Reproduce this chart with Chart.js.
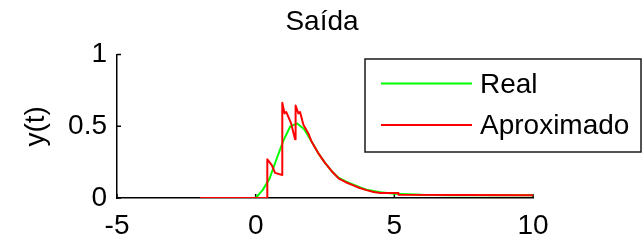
<!DOCTYPE html>
<html>
<head>
<meta charset="utf-8">
<script src="https://cdn.jsdelivr.net/npm/chart.js@4.4.1/dist/chart.umd.min.js"></script>
<style>
html, body { margin: 0; padding: 0; background: #ffffff; }
canvas { display: block; }
</style>
</head>
<body>
<canvas id="c" width="644" height="240"></canvas>
<script>
// ---- chart data ----
const chartTitle = 'Saída';
const yAxisTitle = 'y(t)';
const seriesLabels = ['Real', 'Aproximado'];

const realT = [0, 0.25, 0.5, 0.75, 1.0, 1.25, 1.5, 1.75, 2.0, 2.25, 2.5, 2.75, 3.0, 3.25, 3.5, 3.75, 4.0, 4.5, 5.0, 6.0, 7.0, 8.0, 9.0, 10.0];
const realY = [0, 0.055, 0.135, 0.27, 0.40, 0.50, 0.52, 0.48, 0.40, 0.315, 0.245, 0.185, 0.14, 0.115, 0.095, 0.075, 0.058, 0.04, 0.03, 0.022, 0.02, 0.02, 0.02, 0.02];

const aproxT = [-2, 0.42, 0.42, 0.58, 0.7, 0.96, 0.96, 1.04, 1.1, 1.28, 1.42, 1.44, 1.54, 1.6, 1.72, 1.9, 2.0, 2.25, 2.5, 2.75, 3.0, 3.25, 3.5, 3.75, 4.0, 4.25, 4.5, 5.15, 5.15, 10];
const aproxY = [0, 0, 0.27, 0.23, 0.175, 0.16, 0.665, 0.59, 0.6, 0.52, 0.41, 0.645, 0.59, 0.6, 0.51, 0.45, 0.40, 0.315, 0.245, 0.185, 0.135, 0.11, 0.09, 0.07, 0.055, 0.042, 0.035, 0.035, 0.022, 0.02];

const xTicks = [-5, 0, 5, 10];
const xTickLabels = ['-5', '0', '5', '10'];
const yTicks = [0, 0.5, 1];
const yTickLabels = ['0', '0.5', '1'];

// ---- build ----
const toPoints = (xs, ys) => xs.map((x, i) => ({ x: x, y: ys[i] }));
const FONT = "'Liberation Sans', Arial, Helvetica, sans-serif";

Chart.defaults.font.family = FONT;
Chart.defaults.color = '#000000';

const inwardTicks = {
  id: 'inwardTicks',
  beforeDatasetsDraw(chart) {
    const { ctx, chartArea, scales } = chart;
    ctx.save();
    ctx.strokeStyle = '#000000';
    ctx.lineWidth = 1.5;
    ctx.beginPath();
    scales.x.ticks.forEach(t => {
      const px = scales.x.getPixelForValue(t.value);
      ctx.moveTo(px, chartArea.bottom);
      ctx.lineTo(px, chartArea.bottom - 4);
    });
    scales.y.ticks.forEach(t => {
      const py = scales.y.getPixelForValue(t.value);
      ctx.moveTo(chartArea.left, py);
      ctx.lineTo(chartArea.left + 4, py);
    });
    ctx.stroke();
    ctx.restore();
  }
};

const boxLegend = {
  id: 'boxLegend',
  afterDraw(chart) {
    const { ctx } = chart;
    const bx = 365, by = 59, bw = 276, bh = 93;
    ctx.save();
    ctx.fillStyle = '#ffffff';
    ctx.fillRect(bx, by, bw, bh);
    ctx.strokeStyle = '#1a1a1a';
    ctx.lineWidth = 1.5;
    ctx.strokeRect(bx, by, bw, bh);
    const rows = [83.5, 125];
    const textY = [85, 126.5];
    chart.data.datasets.forEach((ds, i) => {
      ctx.strokeStyle = ds.borderColor;
      ctx.lineWidth = 2;
      ctx.beginPath();
      ctx.moveTo(381, rows[i]);
      ctx.lineTo(472, rows[i]);
      ctx.stroke();
      ctx.fillStyle = '#000000';
      ctx.font = '28px ' + FONT;
      ctx.textAlign = 'left';
      ctx.textBaseline = 'middle';
      ctx.fillText(ds.label, 480, textY[i]);
    });
    ctx.restore();
  }
};

new Chart(document.getElementById('c'), {
  type: 'line',
  data: {
    datasets: [
      {
        label: seriesLabels[0],
        data: toPoints(realT, realY),
        borderColor: '#00ff00',
        borderWidth: 2,
        borderJoinStyle: 'round',
        pointRadius: 0,
        tension: 0,
        fill: false,
        order: 1
      },
      {
        label: seriesLabels[1],
        data: toPoints(aproxT, aproxY),
        borderColor: '#ff0000',
        borderWidth: 2,
        borderJoinStyle: 'round',
        pointRadius: 0,
        tension: 0,
        fill: false,
        order: 0
      }
    ]
  },
  options: {
    responsive: false,
    animation: false,
    devicePixelRatio: 1,
    layout: { padding: { left: 0, right: 0, top: 0, bottom: 0 } },
    plugins: {
      legend: { display: false },
      tooltip: { enabled: false },
      title: {
        display: true,
        text: chartTitle,
        color: '#000000',
        font: { size: 28, weight: 'normal', family: FONT },
        padding: { top: 5, bottom: 16 }
      }
    },
    scales: {
      x: {
        type: 'linear',
        min: -5,
        max: 10,
        afterBuildTicks: s => { s.ticks = xTicks.map(v => ({ value: v })); },
        ticks: {
          callback: (v) => xTickLabels[xTicks.indexOf(v)],
          font: { size: 28, family: FONT },
          color: '#000000',
          padding: 11,
          maxRotation: 0,
          autoSkip: false
        },
        grid: { display: false, drawTicks: false },
        border: { display: true, color: '#000000', width: 1.5 },
        afterFit: s => { s.height = 42; }
      },
      y: {
        type: 'linear',
        min: 0,
        max: 1,
        afterBuildTicks: s => { s.ticks = yTicks.map(v => ({ value: v })); },
        ticks: {
          callback: (v) => yTickLabels[yTicks.indexOf(v)],
          font: { size: 28, family: FONT },
          color: '#000000',
          padding: 10,
          autoSkip: false
        },
        grid: { display: false, drawTicks: false },
        border: { display: true, color: '#000000', width: 1.5 },
        title: {
          display: true,
          text: yAxisTitle,
          color: '#000000',
          font: { size: 28, family: FONT },
          padding: { top: 19, bottom: 0 }
        },
        afterFit: s => { s.width = 117; }
      },
      yRight: {
        type: 'linear',
        position: 'right',
        display: true,
        min: 0,
        max: 1,
        ticks: { display: false },
        grid: { display: false, drawTicks: false },
        border: { display: false },
        afterFit: s => { s.width = 111; }
      }
    }
  },
  plugins: [inwardTicks, boxLegend]
});
</script>
</body>
</html>
